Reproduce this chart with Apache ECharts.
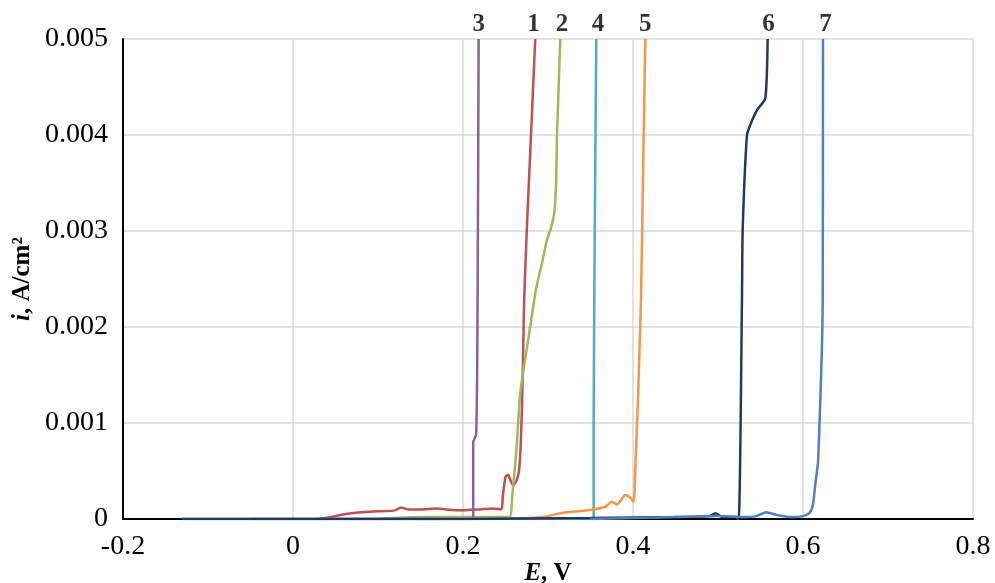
<!DOCTYPE html>
<html>
<head>
<meta charset="utf-8">
<script src="https://cdn.jsdelivr.net/npm/echarts@6/dist/echarts.min.js"></script>
<style>
html,body{margin:0;padding:0;background:#fff;}
#c{width:995px;height:583px;}
</style>
</head>
<body>
<div id="c"></div>
<script>
// Curve 1 (red)
var curve1E = [0.03, 0.045, 0.06, 0.08, 0.10, 0.12, 0.127, 0.135, 0.15, 0.17, 0.18, 0.20, 0.22, 0.235, 0.245, 0.247, 0.250, 0.253, 0.256, 0.259, 0.263, 0.266, 0.268, 0.2696, 0.2713, 0.272, 0.275, 0.280, 0.285];
var curve1I = [0, 0.00002, 0.00005, 0.00007, 0.00008, 0.00009, 0.00012, 0.0001, 0.0001, 0.00011, 0.0001, 0.00009, 0.0001, 0.00011, 0.0001, 0.00025, 0.00044, 0.00046, 0.0004, 0.00035, 0.0004, 0.00051, 0.0008, 0.00124, 0.002, 0.0023, 0.003, 0.004, 0.005];
// Curve 2 (green)
var curve2E = [0.10, 0.15, 0.20, 0.25, 0.2557, 0.258, 0.2627, 0.2666, 0.2694, 0.279, 0.286, 0.293, 0.2985, 0.3035, 0.3075, 0.3095, 0.3106, 0.3145];
var curve2I = [0, 0.00002, 0.00002, 0.00002, 0.00002, 0.00025, 0.0007, 0.00124, 0.00145, 0.002, 0.0024, 0.00267, 0.0029, 0.00303, 0.0032, 0.0035, 0.004, 0.005];
// Curve 3 (purple)
var curve3E = [-0.05, 0.10, 0.212, 0.212, 0.2155, 0.217, 0.2184];
var curve3I = [0, 0, 0, 0.0008, 0.00088, 0.002, 0.005];
// Curve 4 (cyan)
var curve4E = [-0.13, 0.20, 0.3537, 0.3537, 0.355, 0.3568];
var curve4I = [0, 0, 0, 0.001, 0.003, 0.005];
// Curve 5 (orange)
var curve5E = [0.15, 0.276, 0.30, 0.3146, 0.335, 0.3537, 0.3676, 0.375, 0.381, 0.391, 0.397, 0.4007, 0.403, 0.406, 0.4094, 0.4125, 0.4145];
var curve5I = [0, 0.00001, 0.00003, 0.00006, 0.00008, 0.0001, 0.00013, 0.00018, 0.00015, 0.00025, 0.00022, 0.00018, 0.0006, 0.0013, 0.0023, 0.004, 0.005];
// Curve 6 (navy)
var curve6E = [-0.13, 0.0, 0.2, 0.35, 0.45, 0.49, 0.497, 0.505, 0.52, 0.5243, 0.5282, 0.529, 0.5341, 0.5386, 0.5459, 0.5556, 0.5584];
var curve6I = [0, 0, 0, 0.00001, 0.00002, 0.00003, 0.00006, 0.00002, 0.00002, 0, 0.00229, 0.003, 0.004, 0.00412, 0.00426, 0.00438, 0.005];
// Curve 7 (blue)
var curve7E = [0.35, 0.45, 0.5, 0.53, 0.545, 0.5568, 0.57, 0.5886, 0.6, 0.6055, 0.609, 0.6117, 0.615, 0.6178, 0.6232, 0.6235];
var curve7I = [0, 0.00002, 0.00003, 0.00002, 0.00003, 0.00007, 0.00004, 0.00002, 0.00003, 0.00005, 0.00008, 0.00015, 0.0004, 0.00061, 0.00229, 0.005];
// Curve number labels placed at the top of each curve
var labelNames = ['3', '1', '2', '4', '5', '6', '7'];
var labelE = [0.2185, 0.2829, 0.3165, 0.3588, 0.4145, 0.5595, 0.6264];
var labelI = [0.005, 0.005, 0.005, 0.005, 0.005, 0.005, 0.005];
// Axis settings
var xMin = -0.2, xMax = 0.8, xStep = 0.2;
var yMin = 0, yMax = 0.005, yStep = 0.001;

function zip(a, b) { return a.map(function (v, k) { return [v, b[k]]; }); }

var curves = [
  { e: curve1E, i: curve1I, color: '#C0504D' },
  { e: curve2E, i: curve2I, color: '#9BBB59' },
  { e: curve3E, i: curve3I, color: '#8064A2' },
  { e: curve4E, i: curve4I, color: '#4BACC6' },
  { e: curve5E, i: curve5I, color: '#F79646' },
  { e: curve6E, i: curve6I, color: '#1F3A60' },
  { e: curve7E, i: curve7I, color: '#4F81BD' }
];

var series = curves.map(function (c) {
  return {
    type: 'line',
    data: zip(c.e, c.i),
    showSymbol: false,
    smooth: 0.2,
    lineStyle: { color: c.color, width: 2.5 },
    animation: false,
    z: 3
  };
});
series.push({
  type: 'scatter',
  data: labelE.map(function (v, k) { return { value: [v, labelI[k]], name: labelNames[k] }; }),
  symbolSize: 0,
  clip: false,
  silent: true,
  animation: false,
  label: {
    show: true,
    position: 'top',
    distance: 2,
    formatter: function (p) { return p.name; },
    fontFamily: 'Liberation Serif',
    fontWeight: 'bold',
    fontSize: 25,
    color: '#000'
  }
});

var chart = echarts.init(document.getElementById('c'), null, { renderer: 'canvas' });
chart.setOption({
  backgroundColor: '#fff',
  animation: false,
  grid: { left: 123, right: 22, top: 39, bottom: 64, containLabel: false, outerBoundsMode: 'none' },
  xAxis: {
    type: 'value',
    min: xMin, max: xMax, interval: xStep,
    axisLine: { show: true, onZero: false, lineStyle: { color: '#000', width: 2 } },
    axisTick: { show: false },
    splitLine: { show: true, lineStyle: { color: '#d9d9d9', width: 1.5 } },
    axisLabel: { fontFamily: 'Liberation Serif', fontSize: 28, color: '#000', margin: 14,
      formatter: function (v) { return String(Math.round(v * 10) / 10); } },
    name: '{e|E}{n|, V}',
    nameLocation: 'middle',
    nameGap: 42,
    nameMoveOverlap: false,
    nameTextStyle: {
      rich: {
        e: { fontFamily: 'Liberation Serif', fontSize: 25, fontWeight: 'bold', fontStyle: 'italic', color: '#000' },
        n: { fontFamily: 'Liberation Serif', fontSize: 25, fontWeight: 'bold', color: '#000' }
      }
    }
  },
  yAxis: {
    type: 'value',
    min: yMin, max: yMax, interval: yStep,
    axisLine: { show: true, onZero: false, lineStyle: { color: '#000', width: 2 } },
    axisTick: { show: false },
    splitLine: { show: true, lineStyle: { color: '#d9d9d9', width: 1.5 } },
    axisLabel: { fontFamily: 'Liberation Serif', fontSize: 28, color: '#000', margin: 15,
      formatter: function (v) { return v === 0 ? '0' : v.toFixed(3); } },
    name: '{i|i}{n|, A/cm²}',
    nameLocation: 'middle',
    nameRotate: 90,
    nameGap: 88,
    nameMoveOverlap: false,
    nameTextStyle: {
      rich: {
        i: { fontFamily: 'Liberation Serif', fontSize: 25, fontWeight: 'bold', fontStyle: 'italic', color: '#000' },
        n: { fontFamily: 'Liberation Serif', fontSize: 25, fontWeight: 'bold', color: '#000' }
      }
    }
  },
  series: series
});
</script>
</body>
</html>
